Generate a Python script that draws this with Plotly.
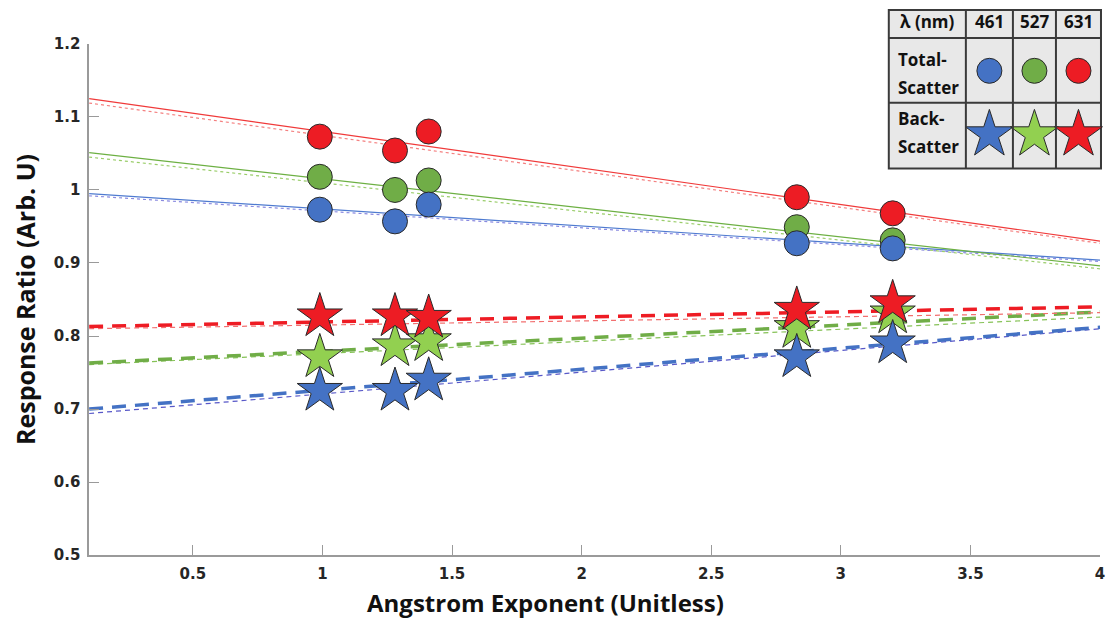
import plotly.graph_objects as go

W, H = 1118, 624

# ---------------- data ----------------
angstrom = [0.99, 1.28, 1.41, 2.83, 3.2]

total_461 = [0.973, 0.957, 0.980, 0.927, 0.920]
total_527 = [1.018, 1.000, 1.013, 0.949, 0.931]
total_631 = [1.073, 1.054, 1.080, 0.990, 0.968]

back_461 = [0.725, 0.725, 0.739, 0.771, 0.790]
back_527 = [0.771, 0.786, 0.793, 0.811, 0.831]
back_631 = [0.827, 0.827, 0.825, 0.836, 0.845]

fit_x = [0.1, 4.0]
fit_total_461 = [0.995, 0.904]
fit_total_527 = [1.051, 0.896]
fit_total_631 = [1.125, 0.930]
fit2_total_461 = [0.992, 0.902]
fit2_total_527 = [1.045, 0.892]
fit2_total_631 = [1.119, 0.927]

fit_back_461 = [0.700, 0.812]
fit_back_527 = [0.763, 0.833]
fit_back_631 = [0.813, 0.840]
fit2_back_461 = [0.694, 0.810]
fit2_back_527 = [0.761, 0.826]
fit2_back_631 = [0.810, 0.832]

x_ticks = [0.5, 1, 1.5, 2, 2.5, 3, 3.5, 4]
x_tick_labels = ["0.5", "1", "1.5", "2", "2.5", "3", "3.5", "4"]
y_ticks = [0.5, 0.6, 0.7, 0.8, 0.9, 1.0, 1.1, 1.2]
y_tick_labels = ["0.5", "0.6", "0.7", "0.8", "0.9", "1", "1.1", "1.2"]

wavelengths = ["461", "527", "631"]

# ---------------- styles ----------------
circle_colors = {"461": "#4472C4", "527": "#70AD47", "631": "#ED1C24"}
star_colors = {"461": "#4472C4", "527": "#92D050", "631": "#ED1C24"}
solid_colors = {"461": "#4F7BD0", "527": "#6DB043", "631": "#F03A3A"}
dot_colors = {"461": "#8A8AE0", "527": "#9ACD6A", "631": "#F48080"}
thick_dash_colors = {"461": "#4472C4", "527": "#70AD47", "631": "#EE1C24"}
thin_dash_colors = {"461": "#5858C8", "527": "#86C257", "631": "#F27070"}

total = {"461": total_461, "527": total_527, "631": total_631}
back = {"461": back_461, "527": back_527, "631": back_631}
fit_t = {"461": fit_total_461, "527": fit_total_527, "631": fit_total_631}
fit2_t = {"461": fit2_total_461, "527": fit2_total_527, "631": fit2_total_631}
fit_b = {"461": fit_back_461, "527": fit_back_527, "631": fit_back_631}
fit2_b = {"461": fit2_back_461, "527": fit2_back_527, "631": fit2_back_631}

fig = go.Figure()

# fit lines
for wl in wavelengths:
    fig.add_trace(go.Scatter(x=fit_x, y=fit2_t[wl], mode="lines",
                             line=dict(color=dot_colors[wl], width=1.2, dash="dot"),
                             showlegend=False, hoverinfo="skip"))
    fig.add_trace(go.Scatter(x=fit_x, y=fit_t[wl], mode="lines",
                             line=dict(color=solid_colors[wl], width=1.2),
                             showlegend=False, hoverinfo="skip"))
    fig.add_trace(go.Scatter(x=fit_x, y=fit2_b[wl], mode="lines",
                             line=dict(color=thin_dash_colors[wl], width=1.2, dash="5px,4px"),
                             showlegend=False, hoverinfo="skip"))
    fig.add_trace(go.Scatter(x=fit_x, y=fit_b[wl], mode="lines",
                             line=dict(color=thick_dash_colors[wl], width=3.5, dash="14px,9px"),
                             showlegend=False, hoverinfo="skip"))

# markers
for wl in ["527", "461", "631"]:
    fig.add_trace(go.Scatter(x=angstrom, y=total[wl], mode="markers",
                             marker=dict(symbol="circle", size=25, color=circle_colors[wl],
                                         line=dict(color="#2a2a2a", width=1)),
                             showlegend=False, name="Total " + wl))
for wl in ["527", "461", "631"]:
    fig.add_trace(go.Scatter(x=angstrom, y=back[wl], mode="markers",
                             marker=dict(symbol="star", size=34, color=star_colors[wl],
                                         line=dict(color="#2a2a2a", width=1)),
                             showlegend=False, name="Back " + wl))

# ---------------- legend table (screen-pixel coordinates on an overlay axis) ----------------
tx0, tx1, ty0, ty1 = 888, 1100, 9, 168
col_edges = [888, 965, 1012, 1055, 1100]
row_edges = [9, 37, 102, 168]
col_centers = [(col_edges[i] + col_edges[i + 1]) / 2 for i in range(4)]
row_centers = [21, 70, 134]

fig.add_shape(type="rect", xref="x2", yref="y2", x0=tx0, x1=tx1, y0=ty0, y1=ty1,
              fillcolor="#E8E8E8", line=dict(color="#3a3a3a", width=2), layer="below")
for cx in col_edges[1:-1]:
    fig.add_shape(type="line", xref="x2", yref="y2", x0=cx, x1=cx, y0=ty0, y1=ty1,
                  line=dict(color="#3a3a3a", width=2))
for ry in row_edges[1:-1]:
    fig.add_shape(type="line", xref="x2", yref="y2", x0=tx0, x1=tx1, y0=ry, y1=ry,
                  line=dict(color="#3a3a3a", width=2))

for i, wl in enumerate(wavelengths):
    fig.add_trace(go.Scatter(x=[col_centers[i + 1]], y=[row_centers[1]], xaxis="x2", yaxis="y2",
                             mode="markers",
                             marker=dict(symbol="circle", size=25, color=circle_colors[wl],
                                         line=dict(color="#2a2a2a", width=1)),
                             showlegend=False, hoverinfo="skip"))
    fig.add_trace(go.Scatter(x=[col_centers[i + 1]], y=[row_centers[2]], xaxis="x2", yaxis="y2",
                             mode="markers",
                             marker=dict(symbol="star", size=36, color=star_colors[wl],
                                         line=dict(color="#2a2a2a", width=1)),
                             showlegend=False, hoverinfo="skip"))

tfont = dict(family="Open Sans", size=17, color="#111111", weight="bold")
fig.add_annotation(xref="x2", yref="y2", x=col_centers[0], y=row_centers[0], text="λ (nm)",
                   showarrow=False, font=tfont)
for i, wl in enumerate(wavelengths):
    fig.add_annotation(xref="x2", yref="y2", x=col_centers[i + 1], y=row_centers[0], text=wl,
                       showarrow=False, font=tfont)
for txt, yy in [("Total-", 59), ("Scatter", 87), ("Back-", 118), ("Scatter", 146)]:
    fig.add_annotation(xref="x2", yref="y2", x=895, y=yy, text=txt,
                       showarrow=False, xanchor="left", font=tfont)

# axis titles (placed like the reference, x title sits left of the axis centre)
fig.add_annotation(xref="x2", yref="y2", x=545, y=603, text="Angstrom Exponent (Unitless)",
                   showarrow=False, font=dict(family="Open Sans", size=24, color="#111111", weight="bold"))
fig.add_annotation(xref="x2", yref="y2", x=25, y=300, text="Response Ratio (Arb. U)", textangle=-90,
                   showarrow=False, font=dict(family="Open Sans", size=25, color="#111111", weight="bold"))

axis_col = "#9a9a9a"
tick_font = dict(family="DejaVu Sans", size=15, color="#262626", weight="bold")

fig.update_layout(
    width=W, height=H,
    margin=dict(l=0, r=0, t=0, b=0),
    paper_bgcolor="white", plot_bgcolor="rgba(0,0,0,0)",
    xaxis=dict(domain=[89.5 / W, 1105 / W], range=[0.1, 4.0],
               tickvals=x_ticks, ticktext=x_tick_labels,
               ticks="inside", ticklen=10, tickcolor=axis_col, tickwidth=1.2,
               showline=True, linecolor=axis_col, linewidth=1.5,
               showgrid=False, zeroline=False, tickfont=tick_font, ticklabelstandoff=4,
               anchor="y"),
    yaxis=dict(domain=[(H - 562.4) / H, (H - 35.9) / H], range=[0.5, 1.2],
               tickvals=y_ticks, ticktext=y_tick_labels,
               ticks="inside", ticklen=10, tickcolor=axis_col, tickwidth=1.2,
               showline=True, linecolor=axis_col, linewidth=1.5,
               showgrid=False, zeroline=False, tickfont=tick_font, ticklabelstandoff=4,
               anchor="x"),
    xaxis2=dict(domain=[0, 1], range=[0, 1112], visible=False,
                anchor="y2", fixedrange=True),
    yaxis2=dict(domain=[0, 1], range=[616, 8], visible=False,
                anchor="x2", fixedrange=True),
)

fig.write_html("out.html")
